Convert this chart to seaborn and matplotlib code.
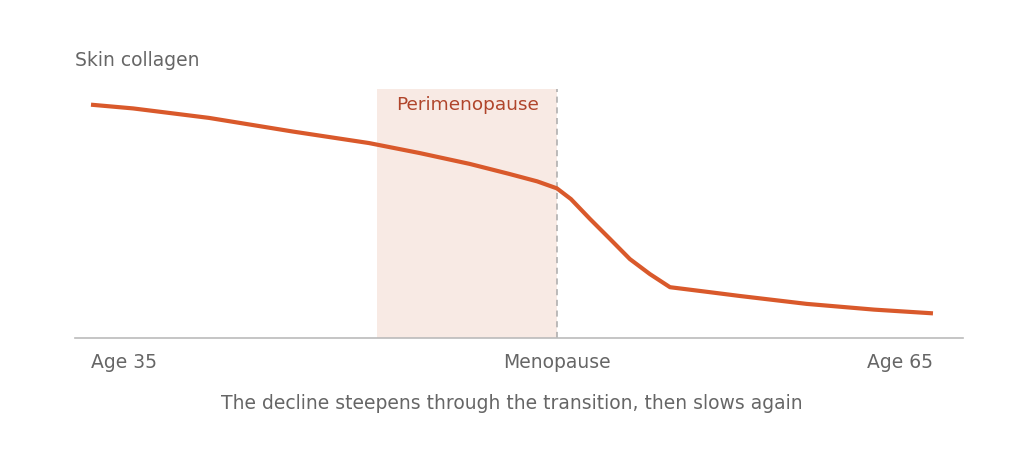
import matplotlib
matplotlib.use("Agg")
import matplotlib.pyplot as plt
import seaborn as sns
import pandas as pd

# ---- data ----
ages = [35.0, 36.5, 39.2, 42.2, 44.9, 46.7, 48.5, 49.9, 50.9, 51.6,
        52.1, 52.78, 53.49, 54.2, 54.91, 55.63, 56.34, 57.05, 58.1, 60.5, 62.9, 65.0]
collagen = [93.7, 92.2, 88.4, 82.9, 78.3, 74.3, 69.9, 65.9, 62.9, 60.1,
            55.8, 47.8, 39.8, 31.7, 25.7, 20.4, 19.4, 18.4, 16.9, 13.7, 11.4, 9.9]
peri_start = 45.2
menopause = 51.6
tick_positions = [35, menopause, 65]
tick_labels = ["Age 35", "Menopause", "Age 65"]
title_text = "Skin collagen"
band_label = "Perimenopause"
caption = "The decline steepens through the transition, then slows again"

df = pd.DataFrame({"age": ages, "collagen": collagen})

sns.set_theme(style="white")
plt.rcParams["font.family"] = ["DejaVu Sans"]

GRAY = "#666666"
LINE = "#D9592B"

fig = plt.figure(figsize=(10.24, 4.52), dpi=100)
ax = fig.add_axes([75/1024, 113/452, 888/1024, 249/452])

ax.axvspan(peri_start, menopause, color="#F8EAE4", lw=0, zorder=0)
ax.axvline(menopause, color="#AAAAAA", lw=1.1, ls=(0, (4, 3)), zorder=1)
sns.lineplot(data=df, x="age", y="collagen", ax=ax, color=LINE, lw=3.0,
             zorder=3, solid_capstyle="butt", solid_joinstyle="round")

ax.text((peri_start + menopause) / 2, 94, band_label, ha="center", va="center",
        fontsize=13.3, color="#B0452B")

ax.set_xlim(34.43, 66.07)
ax.set_ylim(0, 100)
ax.set_yticks([])
ax.set_xticks(tick_positions)
ax.set_xticklabels(tick_labels, fontsize=13.5, color=GRAY)
for lbl, ha in zip(ax.get_xticklabels(), ["left", "center", "right"]):
    lbl.set_ha(ha)
ax.tick_params(axis="x", length=0, pad=10)
ax.set_xlabel("")
ax.set_ylabel("")
for s in ["top", "right", "left"]:
    ax.spines[s].set_visible(False)
ax.spines["bottom"].set_color("#BBBBBB")
ax.spines["bottom"].set_linewidth(1.2)
ax.set_facecolor("white")

fig.text(75/1024, 1 - 60/452, title_text, ha="left", va="center", fontsize=13.5, color=GRAY)
fig.text(0.5, 1 - 404/452, caption, ha="center", va="center", fontsize=13.5, color=GRAY)

fig.savefig("out.png", dpi=100, facecolor="white")
